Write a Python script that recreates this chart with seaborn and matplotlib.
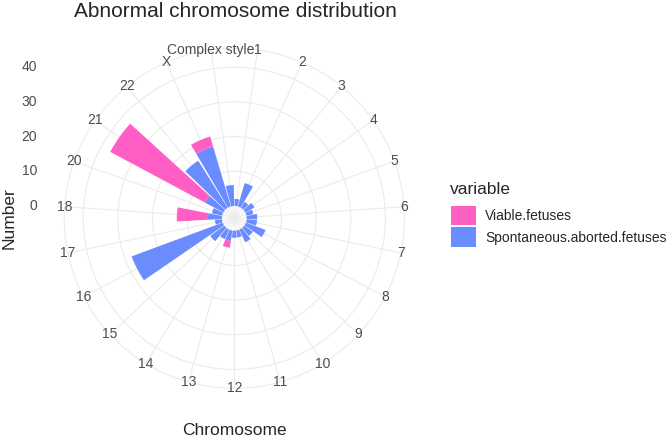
import matplotlib.pyplot as plt
import numpy as np
import seaborn as sns
from matplotlib.patches import Patch

# data
chromosomes = ['1', '2', '3', '4', '5', '6', '7', '8', '9', '10', '11', '12',
               '13', '14', '15', '16', '17', '18', '20', '21', '22', 'X', 'Complex style']
spontaneous = [2, 7, 2, 3, 2, 3, 3, 6, 3, 4, 2, 2,
               3, 3, 5, 28, 2, 4, 3, 6, 16, 18, 6]
viable = [0, 0, 0, 0, 0, 0, 0, 0, 0, 0, 0, 0,
          2, 0, 0, 0, 0, 9, 0, 31, 0, 3, 0]
r_ticks = [0, 10, 20, 30, 40]

pink = '#FF5EC4'
blue = '#6B8CFF'
grid_col = '#EBEBEB'
text_grey = '#4D4D4D'

sns.set_theme(style='white')
plt.rcParams['font.family'] = ['Liberation Sans', 'DejaVu Sans']

W, H = 669, 437
fig = plt.figure(figsize=(W / 100, H / 100), dpi=100)

# polar panel: centre and outer radius in pixels
cx, cy, R = 234.3, 218.3, 170
ax = fig.add_axes([(cx - R) / W, (H - cy - R) / H, 2 * R / W, 2 * R / H], projection='polar')
ax.set_theta_zero_location('N')
ax.set_theta_direction(-1)

n = len(chromosomes)
theta = (np.arange(n) + 0.5) * 2 * np.pi / n
width = 0.9 * 2 * np.pi / n

ax.bar(theta, spontaneous, width=width, color=blue, linewidth=0)
ax.bar(theta, viable, width=width, bottom=spontaneous, color=pink, linewidth=0)

r_min, r_max = -3.6, 45.45
ax.set_ylim(r_min, r_max)
ax.set_xticks(theta)
ax.set_xticklabels([])
ax.set_yticks(r_ticks)
ax.set_yticklabels([])
ax.tick_params(size=0)
ax.grid(True, color=grid_col, linewidth=0.8)
ax.spines['polar'].set_color(grid_col)
ax.spines['polar'].set_linewidth(0.8)
ax.set_axisbelow(True)
ax.set_facecolor('white')

# category labels sitting on the outer circle
for t, lab in zip(theta, chromosomes):
    ax.text(t, r_max, lab, ha='center', va='center', fontsize=10,
            color=text_grey, clip_on=False)

# radial scale labels on the left, level with each ring
inv = fig.transFigure.inverted()
for v in r_ticks:
    fy = inv.transform(ax.transData.transform((0, v)))[1]
    fig.text(37 / W, fy, str(v), ha='right', va='center', fontsize=10, color=text_grey)

fig.text(235.5 / W, 1 - 17 / H, 'Abnormal chromosome distribution',
         ha='center', va='baseline', fontsize=15)
fig.text(9.5 / W, 1 - 218 / H, 'Number', rotation=90, ha='center', va='center', fontsize=12.5)
fig.text(234 / W, 1 - 435 / H, 'Chromosome', ha='center', va='baseline', fontsize=12.5)

# legend
fig.text(450 / W, 1 - 194 / H, 'variable', ha='left', va='baseline', fontsize=12.5)
handles = [Patch(facecolor=pink, edgecolor='none', label='Viable.fetuses'),
           Patch(facecolor=blue, edgecolor='none', label='Spontaneous.aborted.fetuses')]
fig.legend(handles=handles, loc='upper left', bbox_to_anchor=(451 / W, 1 - 205.7 / H),
           frameon=False, fontsize=10, handlelength=1.8, handleheight=1.8,
           labelspacing=0.144, handletextpad=0.65, borderpad=0, borderaxespad=0)

fig.savefig('out.png', dpi=100, facecolor='white')
